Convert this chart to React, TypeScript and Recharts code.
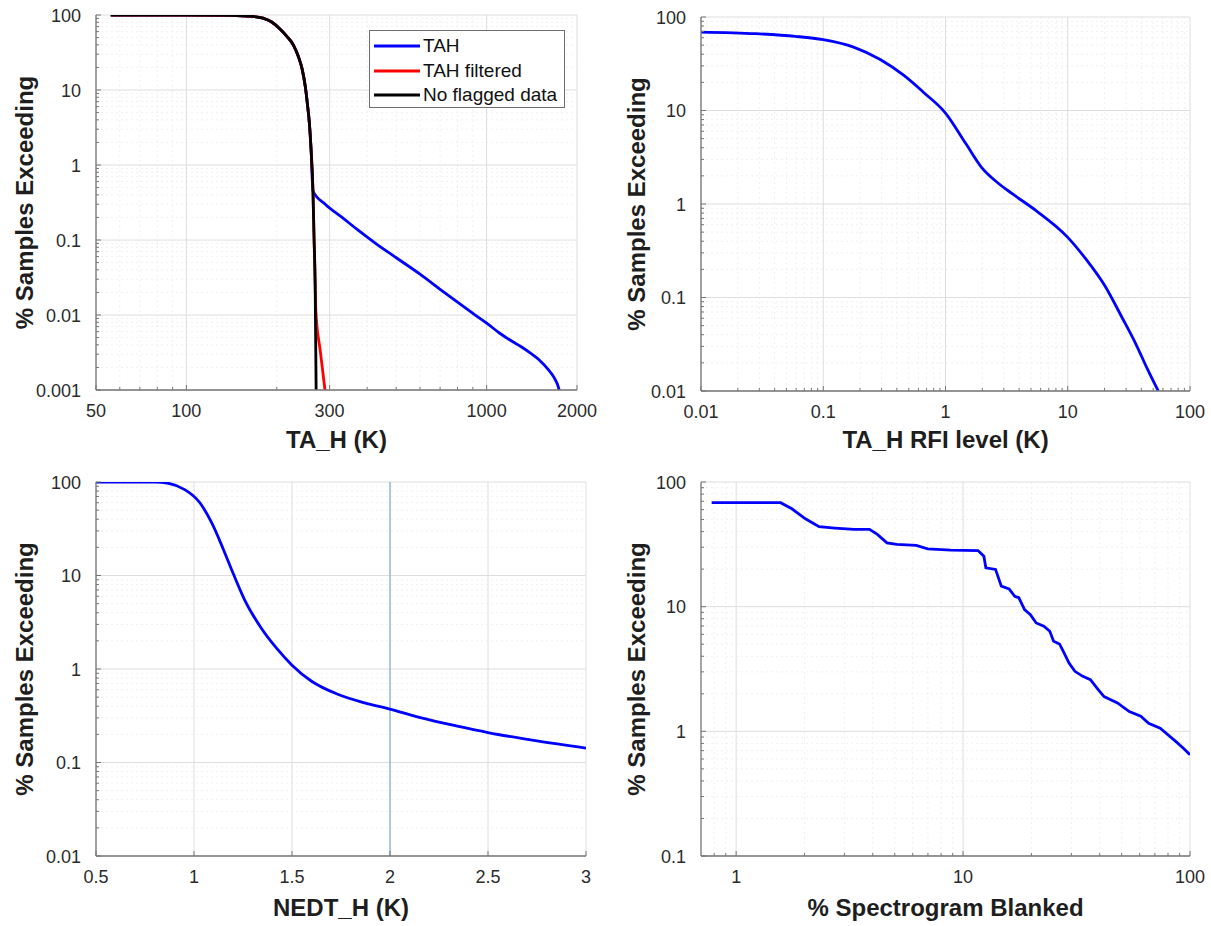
import React from 'react';
import { LineChart, Line, XAxis, YAxis, CartesianGrid, ReferenceLine, Legend } from 'recharts';

const FONT = '"Liberation Sans", Arial, Helvetica, sans-serif';
const AXIS_COLOR = '#767676';
const TICK_TEXT = '#2b2b2b';
const TITLE_TEXT = '#1e1e1e';
const MAJOR_GRID = '#dedede';
const MINOR_GRID = '#f0f0f0';

// ---------- Panel 1: TA_H ----------
const p1XMajor = [50, 100, 300, 1000, 2000];
const p1YMajor = [0.001, 0.01, 0.1, 1, 10, 100];
const noFlagX = [56, 100, 140, 165, 180, 193, 205, 216, 227, 236, 243, 249, 253, 257, 260, 264, 266, 268.5, 270.5];
const noFlagY = [100, 100, 99, 96, 91, 80, 65, 52, 40, 28, 19, 11, 6.5, 3.5, 1.7, 0.45, 0.12, 0.025, 0.001];
const tahFiltX = [56, 100, 140, 165, 180, 193, 205, 216, 227, 236, 243, 249, 253, 257, 260, 264, 266, 268.5, 270, 279, 289.5];
const tahFiltY = [100, 100, 99, 96, 91, 80, 65, 52, 40, 28, 19, 11, 6.5, 3.5, 1.7, 0.45, 0.12, 0.025, 0.011, 0.0034, 0.001];
const tahX = [56, 100, 140, 165, 180, 193, 205, 216, 227, 236, 243, 249, 253, 257, 260, 264, 290, 330, 378, 430, 500, 600, 700, 800, 900, 1000, 1100, 1200, 1300, 1400, 1500, 1600, 1680, 1720, 1745];
const tahY = [100, 100, 99, 96, 91, 80, 65, 52, 40, 28, 19, 11, 6.5, 3.5, 1.7, 0.45, 0.3, 0.2, 0.13, 0.088, 0.058, 0.035, 0.022, 0.0148, 0.0105, 0.0078, 0.0058, 0.0046, 0.0038, 0.0031, 0.0025, 0.0019, 0.00145, 0.0012, 0.001];

// ---------- Panel 2: TA_H RFI level ----------
const p2XMajor = [0.01, 0.1, 1, 10, 100];
const p2YMajor = [0.01, 0.1, 1, 10, 100];
const rfiX = [0.01, 0.028, 0.059, 0.1, 0.177, 0.295, 0.457, 0.659, 1, 1.47, 1.97, 2.64, 3.54, 5.5, 10, 14, 20, 28, 36, 45, 55];
const rfiY = [69, 66.3, 62.1, 57.2, 47.7, 34.9, 23.7, 15.7, 9.4, 4.4, 2.47, 1.71, 1.28, 0.85, 0.44, 0.26, 0.135, 0.06, 0.032, 0.017, 0.01];

// ---------- Panel 3: NEDT_H ----------
const p3XMajor = [0.5, 1, 1.5, 2, 2.5, 3];
const p3YMajor = [0.01, 0.1, 1, 10, 100];
const nedtX = [0.5, 0.8, 0.87, 0.95, 1.03, 1.09, 1.15, 1.2, 1.26, 1.34, 1.42, 1.5, 1.6, 1.73, 1.87, 2.0, 2.16, 2.35, 2.5, 2.75, 3.0];
const nedtY = [100, 100, 96.8, 83.5, 60, 36.7, 19, 10.5, 5.4, 2.8, 1.68, 1.1, 0.74, 0.54, 0.435, 0.373, 0.3, 0.243, 0.209, 0.17, 0.1425];

// ---------- Panel 4: % Spectrogram Blanked ----------
const p4XMajor = [1, 10, 100];
const p4YMajor = [0.1, 1, 10, 100];
const blankX = [0.78, 1.57, 1.76, 2.02, 2.32, 2.72, 3.31, 3.87, 4.19, 4.62, 5.1, 6.21, 6.99, 8.84, 11.64, 12.35, 12.6, 13.9, 14.74, 15.95, 16.9, 17.6, 18.66, 19.8, 21.0, 22.7, 24.1, 25.06, 26.6, 27.65, 29.3, 31.1, 33.7, 36.4, 39.4, 41.8, 47.9, 54.0, 60.7, 65.7, 73.9, 86.5, 93.5, 100];
const blankY = [68.2, 68.2, 61, 50.7, 43.8, 42.7, 41.7, 41.7, 38, 32.5, 31.6, 31, 29.1, 28.4, 28.2, 25.4, 20.5, 19.9, 14.6, 13.9, 12.1, 11.8, 9.48, 8.64, 7.4, 6.96, 6.35, 5.28, 5.02, 4.38, 3.53, 3.03, 2.76, 2.6, 2.16, 1.9, 1.69, 1.44, 1.32, 1.16, 1.06, 0.83, 0.733, 0.648];

const legendOrder = ['TAH', 'TAH filtered', 'No flagged data'];

type Pt = { x: number; y: number };
const toPts = (xs: number[], ys: number[]): Pt[] => xs.map((x, i) => ({ x, y: ys[i] }));

const isIn = (v: number, arr: number[]) => arr.some((m) => Math.abs(m - v) <= Math.abs(m) * 1e-9);

function logMinors(lo: number, hi: number, majors: number[]): number[] {
  const out: number[] = [];
  for (let e = Math.floor(Math.log10(lo)) - 1; e <= Math.ceil(Math.log10(hi)); e++) {
    const base = Math.pow(10, e);
    for (let k = 1; k <= 9; k++) {
      const v = parseFloat((k * base).toPrecision(6));
      if (v > lo * 1.0000001 && v < hi * 0.9999999 && !isIn(v, majors)) out.push(v);
    }
  }
  return out;
}

type Series = { name: string; color: string; points: Pt[] };

type PanelProps = {
  left: number; top: number; width: number; height: number;
  plotTop: number; marginRight: number; yAxisWidth: number; xAxisHeight: number;
  xScale: 'log' | 'linear';
  xDomain: [number, number]; xMajor: number[]; xMinor: number[];
  yDomain: [number, number]; yMajor: number[]; yMinor: number[];
  xTitle: string; yTitle: string; yTitleX: number; xTitleBaseline: number;
  series: Series[]; curve: 'monotone' | 'linear';
  legend?: { left: number; top: number };
  refX?: number;
};

const BottomTick = (props: any) => {
  const { x, y, payload, majors } = props;
  const v = payload?.value;
  const major = isIn(v, majors);
  return (
    <g>
      <line x1={x} y1={y} x2={x} y2={y - (major ? 5 : 3)} stroke={AXIS_COLOR} strokeWidth={1} />
      {major && (
        <text x={x} y={y + 27} textAnchor="middle" fontFamily={FONT} fontSize={18} fill={TICK_TEXT}>
          {String(v)}
        </text>
      )}
    </g>
  );
};

const TopTick = (props: any) => {
  const { x, y, payload, majors } = props;
  const major = isIn(payload?.value, majors);
  return <line x1={x} y1={y} x2={x} y2={y + (major ? 5 : 3)} stroke={AXIS_COLOR} strokeWidth={1} />;
};

const LeftTick = (props: any) => {
  const { x, y, payload, majors } = props;
  const v = payload?.value;
  const major = isIn(v, majors);
  return (
    <g>
      <line x1={x} y1={y} x2={x + (major ? 5 : 3)} y2={y} stroke={AXIS_COLOR} strokeWidth={1} />
      {major && (
        <text x={x - 15} y={y + 6.5} textAnchor="end" fontFamily={FONT} fontSize={18} fill={TICK_TEXT}>
          {String(v)}
        </text>
      )}
    </g>
  );
};

const RightTick = (props: any) => {
  const { x, y, payload, majors } = props;
  const major = isIn(payload?.value, majors);
  return <line x1={x} y1={y} x2={x - (major ? 5 : 3)} y2={y} stroke={AXIS_COLOR} strokeWidth={1} />;
};

const LegendBox = (props: any) => {
  const payload = ((props.payload || []) as any[])
    .slice()
    .sort((a, b) => legendOrder.indexOf(a.value) - legendOrder.indexOf(b.value));
  return (
    <div
      style={{
        boxSizing: 'border-box', width: 196, height: 78, border: '1px solid #6e6e6e', background: '#fff',
        padding: '3px 4px', fontFamily: FONT, fontSize: 19, color: '#111',
      }}
    >
      {payload.map((p) => (
        <div key={p.value} style={{ display: 'flex', alignItems: 'center', height: 24.5, whiteSpace: 'nowrap' }}>
          <svg width={46} height={6} style={{ marginRight: 3, display: 'block' }}>
            <line x1={0} y1={3} x2={46} y2={3} stroke={p.color} strokeWidth={2.8} />
          </svg>
          <span>{p.value}</span>
        </div>
      ))}
    </div>
  );
};

function Panel(p: PanelProps) {
  const xTicks = [...p.xMajor, ...p.xMinor].sort((a, b) => a - b);
  const yTicks = [...p.yMajor, ...p.yMinor].sort((a, b) => a - b);
  const axisLine = { stroke: AXIS_COLOR, strokeWidth: 1.3 };
  return (
    <div style={{ position: 'absolute', left: p.left, top: p.top, width: p.width, height: p.height }}>
      <LineChart
        width={p.width}
        height={p.height}
        margin={{ top: p.plotTop, right: p.marginRight, bottom: 0, left: 0 }}
      >
        {p.xMinor.length > 0 || p.yMinor.length > 0 ? (
          <CartesianGrid
            xAxisId="b"
            yAxisId="l"
            vertical={p.xMinor.length > 0}
            horizontal={p.yMinor.length > 0}
            verticalValues={p.xMinor}
            horizontalValues={p.yMinor}
            stroke={MINOR_GRID}
            strokeDasharray="2 3"
          />
        ) : null}
        <CartesianGrid
          xAxisId="b"
          yAxisId="l"
          verticalValues={p.xMajor}
          horizontalValues={p.yMajor}
          stroke={MAJOR_GRID}
        />
        <XAxis
          xAxisId="b"
          type="number"
          dataKey="x"
          scale={p.xScale}
          domain={p.xDomain}
          allowDataOverflow
          ticks={xTicks}
          interval={0}
          height={p.xAxisHeight}
          tickSize={0}
          tickMargin={0}
          tickLine={false}
          axisLine={axisLine}
          tick={(tp: any) => <BottomTick {...tp} majors={p.xMajor} />}
          label={(lp: any) => {
            const vb = lp.viewBox || {};
            return (
              <text
                x={vb.x + vb.width / 2}
                y={p.xTitleBaseline}
                textAnchor="middle"
                fontFamily={FONT}
                fontSize={24}
                fontWeight="bold"
                fill={TITLE_TEXT}
              >
                {p.xTitle}
              </text>
            );
          }}
        />
        <XAxis
          xAxisId="t"
          orientation="top"
          type="number"
          dataKey="x"
          scale={p.xScale}
          domain={p.xDomain}
          allowDataOverflow
          ticks={xTicks}
          interval={0}
          height={0}
          tickSize={0}
          tickMargin={0}
          tickLine={false}
          axisLine={axisLine}
          tick={(tp: any) => <TopTick {...tp} majors={p.xMajor} />}
        />
        <YAxis
          yAxisId="l"
          type="number"
          dataKey="y"
          scale="log"
          domain={p.yDomain}
          allowDataOverflow
          ticks={yTicks}
          interval={0}
          width={p.yAxisWidth}
          tickSize={0}
          tickMargin={0}
          tickLine={false}
          axisLine={axisLine}
          tick={(tp: any) => <LeftTick {...tp} majors={p.yMajor} />}
          label={(lp: any) => {
            const vb = lp.viewBox || {};
            const cy = vb.y + vb.height / 2;
            return (
              <text
                transform={`translate(${p.yTitleX},${cy}) rotate(-90)`}
                textAnchor="middle"
                dy="0.36em"
                fontFamily={FONT}
                fontSize={24}
                fontWeight="bold"
                fill={TITLE_TEXT}
              >
                {p.yTitle}
              </text>
            );
          }}
        />
        <YAxis
          yAxisId="r"
          orientation="right"
          type="number"
          dataKey="y"
          scale="log"
          domain={p.yDomain}
          allowDataOverflow
          ticks={yTicks}
          interval={0}
          width={0}
          tickSize={0}
          tickMargin={0}
          tickLine={false}
          axisLine={axisLine}
          tick={(tp: any) => <RightTick {...tp} majors={p.yMajor} />}
        />
        {p.refX !== undefined ? (
          <ReferenceLine xAxisId="b" yAxisId="l" x={p.refX} stroke="#8db3d9" strokeWidth={1.3} />
        ) : null}
        {p.series.map((s) => (
          <Line
            key={s.name}
            name={s.name}
            xAxisId="b"
            yAxisId="l"
            data={s.points}
            dataKey="y"
            type={p.curve}
            stroke={s.color}
            strokeWidth={2.8}
            dot={false}
            activeDot={false}
            isAnimationActive={false}
          />
        ))}
        {p.legend ? (
          <Legend
            layout="vertical"
            align="center"
            verticalAlign="middle"
            wrapperStyle={{ position: 'absolute', left: p.legend.left, top: p.legend.top, width: 196, height: 78 }}
            content={(lp: any) => <LegendBox {...lp} />}
          />
        ) : null}
      </LineChart>
    </div>
  );
}

export default function App() {
  return (
    <div style={{ position: 'absolute', left: 0, top: 0, width: 1211, height: 926, background: '#fff' }}>
      <Panel
        left={0} top={0} width={600} height={460}
        plotTop={15} marginRight={23} yAxisWidth={96} xAxisHeight={70}
        xScale="log" xDomain={[50, 2000]} xMajor={p1XMajor} xMinor={logMinors(50, 2000, p1XMajor)}
        yDomain={[0.001, 100]} yMajor={p1YMajor} yMinor={logMinors(0.001, 100, p1YMajor)}
        xTitle="TA_H (K)" yTitle="% Samples Exceeding" yTitleX={24} xTitleBaseline={448}
        curve="monotone"
        series={[
          { name: 'TAH', color: '#0000ff', points: toPts(tahX, tahY) },
          { name: 'TAH filtered', color: '#ff0000', points: toPts(tahFiltX, tahFiltY) },
          { name: 'No flagged data', color: '#000000', points: toPts(noFlagX, noFlagY) },
        ]}
        legend={{ left: 369, top: 30 }}
      />
      <Panel
        left={605} top={0} width={606} height={460}
        plotTop={17} marginRight={21} yAxisWidth={96} xAxisHeight={69}
        xScale="log" xDomain={[0.01, 100]} xMajor={p2XMajor} xMinor={logMinors(0.01, 100, p2XMajor)}
        yDomain={[0.01, 100]} yMajor={p2YMajor} yMinor={logMinors(0.01, 100, p2YMajor)}
        xTitle="TA_H RFI level (K)" yTitle="% Samples Exceeding" yTitleX={31} xTitleBaseline={448}
        curve="monotone"
        series={[{ name: 'TAH RFI', color: '#0000ff', points: toPts(rfiX, rfiY) }]}
      />
      <Panel
        left={0} top={460} width={600} height={466}
        plotTop={22} marginRight={14} yAxisWidth={96} xAxisHeight={70}
        xScale="linear" xDomain={[0.5, 3]} xMajor={p3XMajor} xMinor={[]}
        yDomain={[0.01, 100]} yMajor={p3YMajor} yMinor={logMinors(0.01, 100, p3YMajor)}
        xTitle="NEDT_H (K)" yTitle="% Samples Exceeding" yTitleX={24} xTitleBaseline={456}
        curve="monotone"
        series={[{ name: 'NEDT_H', color: '#0000ff', points: toPts(nedtX, nedtY) }]}
        refX={2}
      />
      <Panel
        left={605} top={460} width={606} height={466}
        plotTop={22} marginRight={21} yAxisWidth={96} xAxisHeight={70}
        xScale="log" xDomain={[0.7, 100]} xMajor={p4XMajor} xMinor={logMinors(0.7, 100, p4XMajor)}
        yDomain={[0.1, 100]} yMajor={p4YMajor} yMinor={logMinors(0.1, 100, p4YMajor)}
        xTitle="% Spectrogram Blanked" yTitle="% Samples Exceeding" yTitleX={31} xTitleBaseline={456}
        curve="linear"
        series={[{ name: 'Blanked', color: '#0000ff', points: toPts(blankX, blankY) }]}
      />
    </div>
  );
}
